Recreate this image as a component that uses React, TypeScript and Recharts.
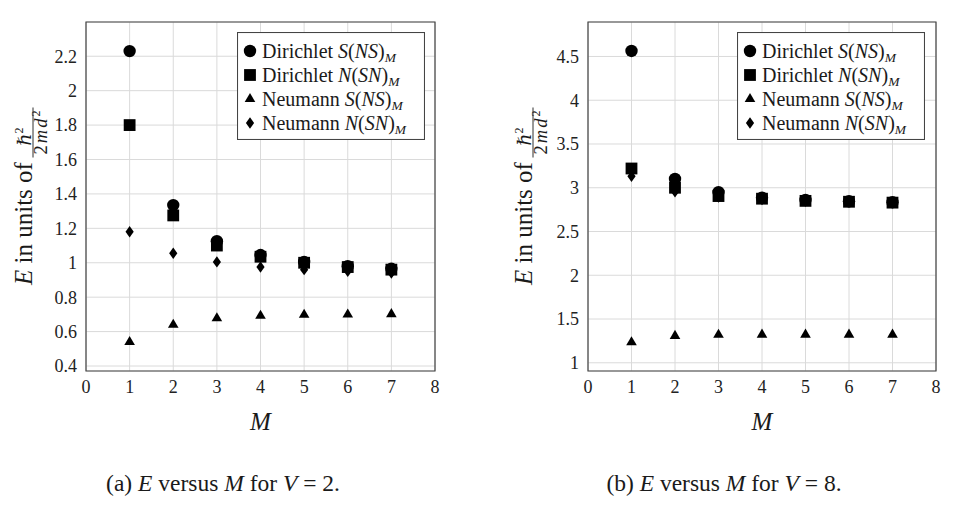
import React from 'react';
import { ScatterChart, Scatter, XAxis, YAxis, CartesianGrid, Legend, ReferenceArea } from 'recharts';

// ---------- data ----------
const mValues = [1, 2, 3, 4, 5, 6, 7];
const xTicks = [0, 1, 2, 3, 4, 5, 6, 7, 8];
const xDomain = [0, 8];

// V = 2
const dirichletS_V2 = [2.23, 1.335, 1.125, 1.045, 1.005, 0.98, 0.965];
const dirichletN_V2 = [1.8, 1.275, 1.1, 1.035, 1.0, 0.975, 0.96];
const neumannS_V2 = [0.54, 0.64, 0.678, 0.692, 0.698, 0.7, 0.702];
const neumannN_V2 = [1.18, 1.055, 1.005, 0.975, 0.96, 0.95, 0.94];
const yTicksV2 = [0.4, 0.6, 0.8, 1, 1.2, 1.4, 1.6, 1.8, 2, 2.2];
const yDomainV2 = [0.371, 2.399];

// V = 8
const dirichletS_V8 = [4.563, 3.1, 2.95, 2.887, 2.86, 2.845, 2.835];
const dirichletN_V8 = [3.22, 3.0, 2.905, 2.875, 2.85, 2.84, 2.83];
const neumannS_V8 = [1.235, 1.308, 1.32, 1.322, 1.322, 1.322, 1.322];
const neumannN_V8 = [3.13, 2.955, 2.895, 2.865, 2.848, 2.838, 2.83];
const yTicksV8 = [1, 1.5, 2, 2.5, 3, 3.5, 4, 4.5];
const yDomainV8 = [0.906, 4.894];

const legendBoundary = ['Dirichlet', 'Dirichlet', 'Neumann', 'Neumann'];
const legendOuter = ['S', 'N', 'S', 'N'];
const legendInner = ['NS', 'SN', 'NS', 'SN'];

const captionLetters = ['a', 'b'];
const captionV = ['2', '8'];

// ---------- styling ----------
const SERIF = 'Liberation Serif, DejaVu Serif, serif';
const INK = '#1a1a1a';
const GRID = '#dadada';
const FRAME = '#444';
const fontCss = { fontFamily: SERIF };

const toPoints = (vals: number[]) => mValues.map((m, i) => ({ m, e: vals[i] }));

const drawCircle = (cx: number, cy: number) => <circle cx={cx} cy={cy} r={6.2} fill="#000" />;
const drawSquare = (cx: number, cy: number) => (
  <rect x={cx - 5.9} y={cy - 5.9} width={11.8} height={11.8} fill="#000" />
);
const drawTriangle = (cx: number, cy: number) => (
  <polygon points={`${cx},${cy - 6} ${cx + 5.3},${cy + 3.1} ${cx - 5.3},${cy + 3.1}`} fill="#000" />
);
const drawDiamond = (cx: number, cy: number) => (
  <polygon points={`${cx},${cy - 5.7} ${cx + 4.1},${cy} ${cx},${cy + 5.7} ${cx - 4.1},${cy}`} fill="#000" />
);
const markers = [drawCircle, drawSquare, drawTriangle, drawDiamond];

const shapeOf = (i: number) => (p: any) => markers[i](p.cx, p.cy);

const LegendBox = () => (
  <svg width={188} height={108} style={{ display: 'block' }}>
    <rect x={0.5} y={0.5} width={187} height={107} fill="#fff" stroke={FRAME} strokeWidth={1.1} />
    {legendBoundary.map((b, i) => {
      const cy = 19 + i * 24;
      return (
        <g key={i}>
          {markers[i](13, cy)}
          <text x={25} y={cy + 6.5} style={fontCss} fontSize={20} fill={INK}>
            <tspan>{b + ' '}</tspan>
            <tspan fontStyle="italic">{legendOuter[i]}</tspan>
            <tspan>(</tspan>
            <tspan fontStyle="italic">{legendInner[i]}</tspan>
            <tspan>)</tspan>
            <tspan fontStyle="italic" fontSize={13.5} dy={4}>M</tspan>
          </text>
        </g>
      );
    })}
  </svg>
);

const YLabel = (props: any) => {
  const vb = props.viewBox || { x: 0, y: 0, width: 0, height: 0 };
  const bx = vb.x + vb.width + props.shift;
  const cy = vb.y + vb.height / 2;
  return (
    <g transform={`translate(${bx},${cy}) rotate(-90)`} style={fontCss} fill={INK}>
      <text x={-88.5} y={0} fontSize={25} style={fontCss}>
        <tspan fontStyle="italic">E</tspan> in units of
      </text>
      <text x={60} y={-1.5} fontSize={19} textAnchor="middle" style={fontCss}>
        <tspan fontStyle="italic">ℏ</tspan>
        <tspan fontSize={12} dy={-8}>2</tspan>
      </text>
      <line x1={39} x2={89} y1={1} y2={1} stroke={INK} strokeWidth={0.9} />
      <text x={64} y={14.5} fontSize={18.5} textAnchor="middle" textLength={44} lengthAdjust="spacing" style={fontCss}>
        <tspan>2</tspan>
        <tspan fontStyle="italic">md</tspan>
        <tspan fontSize={12} dy={-7}>2</tspan>
      </text>
    </g>
  );
};

const XLabel = (props: any) => {
  const vb = props.viewBox || { x: 0, y: 0, width: 0, height: 0 };
  return (
    <text x={vb.x + vb.width / 2} y={vb.y + 59} textAnchor="middle" style={fontCss} fontSize={25} fontStyle="italic" fill={INK}>
      M
    </text>
  );
};

type PanelProps = {
  width: number;
  yAxisWidth: number;
  rightMargin: number;
  labelShift: number;
  legendLeft: number;
  yTicks: number[];
  yDomain: number[];
  series: number[][];
};

const tickStyle = { fill: '#222', fontSize: 18, fontFamily: SERIF, style: fontCss };

const Panel = (p: PanelProps) => (
  <ScatterChart width={p.width} height={518} margin={{ top: 22, right: p.rightMargin, bottom: 0, left: 0 }} style={fontCss}>
    <CartesianGrid stroke={GRID} strokeWidth={1} />
    <XAxis
      type="number"
      dataKey="m"
      domain={xDomain}
      ticks={xTicks}
      interval={0}
      height={147}
      tickSize={0}
      tickMargin={9}
      axisLine={false}
      tickLine={false}
      tick={tickStyle}
      allowDataOverflow
      label={<XLabel />}
    />
    <YAxis
      type="number"
      dataKey="e"
      domain={p.yDomain}
      ticks={p.yTicks}
      interval={0}
      width={p.yAxisWidth}
      tickSize={0}
      tickMargin={9}
      axisLine={false}
      tickLine={false}
      tick={tickStyle}
      allowDataOverflow
      label={<YLabel shift={p.labelShift} />}
    />
    <XAxis xAxisId="bIn" type="number" orientation="bottom" mirror domain={xDomain} ticks={xTicks} interval={0} height={10} tick={false} tickSize={4} axisLine={false} tickLine={{ stroke: FRAME }} allowDataOverflow />
    <XAxis xAxisId="tIn" type="number" orientation="top" mirror domain={xDomain} ticks={xTicks} interval={0} height={10} tick={false} tickSize={4} axisLine={false} tickLine={{ stroke: FRAME }} allowDataOverflow />
    <YAxis yAxisId="lIn" type="number" orientation="left" mirror domain={p.yDomain} ticks={p.yTicks} interval={0} width={10} tick={false} tickSize={4} axisLine={false} tickLine={{ stroke: FRAME }} allowDataOverflow />
    <YAxis yAxisId="rIn" type="number" orientation="right" mirror domain={p.yDomain} ticks={p.yTicks} interval={0} width={10} tick={false} tickSize={4} axisLine={false} tickLine={{ stroke: FRAME }} allowDataOverflow />
    <ReferenceArea x1={xDomain[0]} x2={xDomain[1]} y1={p.yDomain[0]} y2={p.yDomain[1]} fill="none" stroke={FRAME} strokeWidth={1.2} ifOverflow="visible" />
    {p.series.map((vals, i) => (
      <Scatter key={i} data={toPoints(vals)} dataKey="e" shape={shapeOf(i)} isAnimationActive={false} />
    ))}
    <Legend
      layout="vertical"
      align="center"
      verticalAlign="middle"
      content={() => <LegendBox />}
      wrapperStyle={{ left: p.legendLeft, top: 32, width: 188, height: 108 }}
    />
  </ScatterChart>
);

export default function App() {
  return (
    <div style={{ position: 'absolute', left: 0, top: 0, width: 969, height: 518, background: '#fff', overflow: 'hidden', fontFamily: SERIF }}>
      <div style={{ position: 'absolute', left: 0, top: 0 }}>
        <Panel
          width={480}
          yAxisWidth={86}
          rightMargin={45}
          labelShift={-54}
          legendLeft={237}
          yTicks={yTicksV2}
          yDomain={yDomainV2}
          series={[dirichletS_V2, dirichletN_V2, neumannS_V2, neumannN_V2]}
        />
      </div>
      <div style={{ position: 'absolute', left: 490, top: 0 }}>
        <Panel
          width={479}
          yAxisWidth={98}
          rightMargin={33}
          labelShift={-56}
          legendLeft={247}
          yTicks={yTicksV8}
          yDomain={yDomainV8}
          series={[dirichletS_V8, dirichletN_V8, neumannS_V8, neumannN_V8]}
        />
      </div>
      <svg width={969} height={518} style={{ position: 'absolute', left: 0, top: 0, pointerEvents: 'none' }}>
        {[223, 724].map((cx, i) => (
          <text key={i} x={cx} y={491} textAnchor="middle" style={fontCss} fontSize={23.5} fill={INK}>
            <tspan>{'(' + captionLetters[i] + ') '}</tspan>
            <tspan fontStyle="italic">E</tspan>
            <tspan>{' versus '}</tspan>
            <tspan fontStyle="italic">M</tspan>
            <tspan>{' for '}</tspan>
            <tspan fontStyle="italic">V</tspan>
            <tspan>{' = ' + captionV[i] + '.'}</tspan>
          </text>
        ))}
      </svg>
    </div>
  );
}
